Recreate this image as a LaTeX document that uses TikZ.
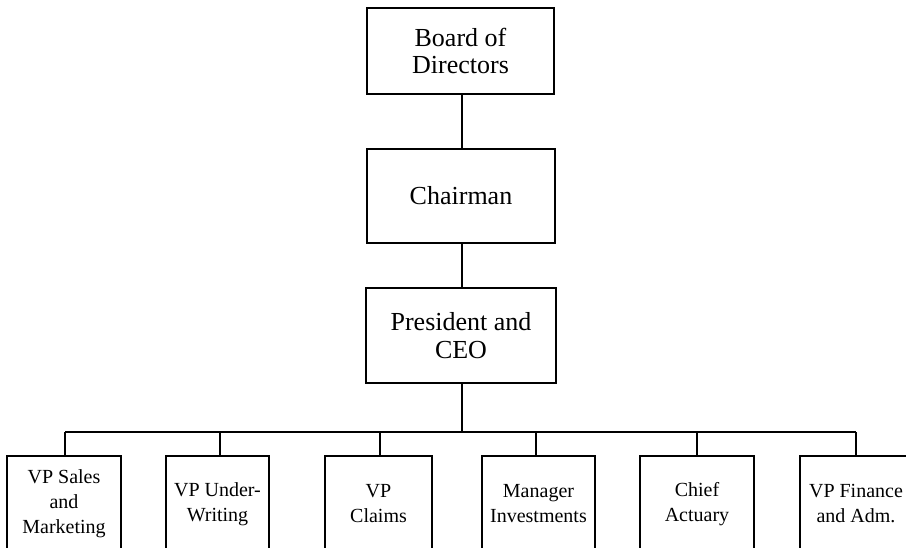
\documentclass[tikz,border=0pt]{standalone}
\usepackage{fontspec}
\setmainfont{Liberation Serif}
\begin{document}
\begin{tikzpicture}[x=1pt,y=-1pt,
  line width=1.6pt,
  topbox/.style={draw, align=center, inner sep=0pt,
    font=\fontsize{26}{27.5}\selectfont},
  unitbox/.style={draw, align=center, inner sep=0pt, anchor=north,
    minimum height=96, font=\fontsize{20}{25}\selectfont}]
  \useasboundingbox (0,0) rectangle (906,547);
  \clip (0,0) rectangle (906,547);

  % upper chain of command
  \node[topbox, minimum width=187, minimum height=86] (board) at (460.5,51) {Board of\\Directors};
  \node[topbox, minimum width=188, minimum height=94] (chair) at (461,196) {Chairman};
  \node[topbox, minimum width=190, minimum height=95] (pres)  at (461,335.5) {President and\\CEO};

  % departments reporting to the president
  \node[unitbox, minimum width=114] (u1) at (64,455)    {VP Sales\\and\\Marketing};
  \node[unitbox, minimum width=103] (u2) at (217.5,455) {VP Under-\\Writing};
  \node[unitbox, minimum width=107] (u3) at (378.5,455) {VP\\Claims};
  \node[unitbox, minimum width=113] (u4) at (538.5,455) {Manager\\Investments};
  \node[unitbox, minimum width=114] (u5) at (697,455)   {Chief\\Actuary};
  \node[unitbox, minimum width=112] (u6) at (856,455)   {VP Finance\\and Adm.};

  % junctions on the horizontal bus
  \coordinate (hub) at (462,432);
  \coordinate (j1) at (65,432);
  \coordinate (j2) at (220,432);
  \coordinate (j3) at (380,432);
  \coordinate (j4) at (536,432);
  \coordinate (j5) at (697,432);
  \coordinate (j6) at (856,432);

  % connectors
  \draw (board.south -| hub) -- (chair.north -| hub);
  \draw (chair.south -| hub) -- (pres.north -| hub);
  \draw (pres.south -| hub) -- (hub);
  \draw (j1) -- (j6);
  \foreach \i in {1,...,6} {
    \draw (j\i) -- (j\i |- u\i.north);
  }
\end{tikzpicture}
\end{document}
